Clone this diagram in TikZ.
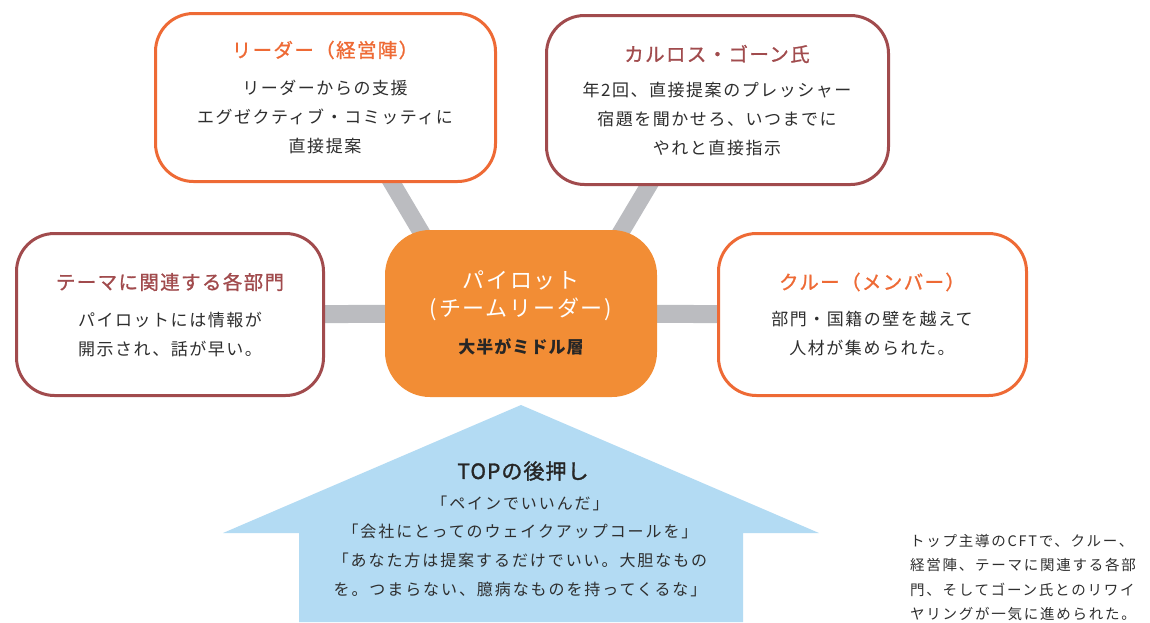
\documentclass[tikz,border=0pt]{standalone}
\usepackage{fontspec}
\usetikzlibrary{backgrounds}
\newfontfamily\jpA[LetterSpace=9]{Noto Sans CJK JP}
\newfontfamily\jpN[LetterSpace=12]{Noto Sans CJK JP}
\newfontfamily\jpT[LetterSpace=7,FakeBold=1]{Noto Sans CJK JP}
\newfontfamily\jpM[LetterSpace=5,FakeBold=1.5]{Noto Sans CJK JP}
\newfontfamily\jpC[LetterSpace=8]{Noto Sans CJK JP}
\newfontfamily\jpB[LetterSpace=6]{Noto Sans CJK JP}
\definecolor{orn}{HTML}{EE6A35}
\definecolor{mar}{HTML}{A14B4D}
\definecolor{ctr}{HTML}{F28D35}
\definecolor{gry}{HTML}{BBBCC0}
\definecolor{sky}{HTML}{B3DBF3}
\definecolor{txt}{HTML}{2E2E2E}
\tikzset{
  card/.style={draw, line width=3pt, rounded corners=38pt, fill=white, inner sep=0pt},
  hub/.style={fill=ctr, rounded corners=45pt, inner sep=0pt, minimum width=272pt, minimum height=167pt},
  link/.style={draw=gry, line width=17pt},
  ttl/.style={font=\jpT\fontsize{19.5}{22}\selectfont, inner sep=0pt},
  bodytext/.style={font=\jpA\fontsize{17}{29}\selectfont, text=txt, align=center, inner sep=0pt},
}
\begin{document}
\begin{tikzpicture}[x=1pt,y=-1pt]
\useasboundingbox (0,0) rectangle (1150,622);
% boxes
\node[card, draw=orn, minimum width=340pt, minimum height=168pt] (leader) at (325.5,97.5) {};
\node[card, draw=mar, minimum width=342pt, minimum height=169pt] (ghosn) at (717.5,100) {};
\node[hub] (center) at (521,313.5) {};
\node[card, draw=mar, minimum width=307pt, minimum height=162pt] (dept) at (170,314.5) {};
\node[card, draw=orn, minimum width=308pt, minimum height=162pt] (crew) at (872.5,314.5) {};
% connectors (behind)
\coordinate (la) at (387.9,176);
\coordinate (lb) at (431.7,250);
\coordinate (ga) at (653.2,178);
\coordinate (gb) at (610.3,250);
\begin{scope}[on background layer]
\draw[link] (la) -- (lb);
\draw[link] (ga) -- (gb);
\draw[link, line width=18pt] (dept) -- (center);
\draw[link, line width=18pt] (center) -- (crew);
\end{scope}
% arrow
\fill[sky] (299,622) -- (299,533) -- (223,533) -- (521,405) -- (819,533) -- (743,533) -- (743,622) -- cycle;
% texts
\node[ttl, text=orn] (leaderT) at (325,50) {リーダー（経営陣）};
\node[bodytext] (leaderB) at (325,117) {リーダーからの支援\\エグゼクティブ・コミッティに\\直接提案};
\node[ttl, text=mar] (ghosnT) at (717,54) {カルロス・ゴーン氏};
\node[bodytext] (ghosnB) at (717,119.5) {年2回、直接提案のプレッシャー\\宿題を聞かせろ、いつまでに\\やれと直接指示};
\node[ttl, text=mar] (deptT) at (170,282) {テーマに関連する各部門};
\node[bodytext] (deptB) at (170,334) {パイロットには情報が\\開示され、話が早い。};
\node[ttl, text=orn] (crewT) at (872,282) {クルー（メンバー）};
\node[bodytext] (crewB) at (872,333.5) {部門・国籍の壁を越えて\\人材が集められた。};
\node[font=\jpC\fontsize{22}{28}\selectfont, text=white, align=center, inner sep=0pt] (centerT) at (521,296) {パイロット\\(チームリーダー)};
\node[font=\jpB\bfseries\fontsize{17}{20}\selectfont, text=black!85, inner sep=0pt] (centerB) at (521,347) {大半がミドル層};
\node[font=\jpM\fontsize{21}{24}\selectfont, text=black!85, inner sep=0pt] (topT) at (523,471) {TOPの後押し};
\node[font=\jpN\fontsize{16}{28.7}\selectfont, text=txt, align=center, inner sep=0pt] (topB) at (520,546) {「ペインでいいんだ」\\「会社にとってのウェイクアップコールを」\\「あなた方は提案するだけでいい。大胆なもの\\を。つまらない、臆病なものを持ってくるな」};
\node[font=\jpN\fontsize{14.5}{24.4}\selectfont, text=txt, align=left, anchor=west, inner sep=0pt] (note) at (910,577.5) {トップ主導のCFTで、クルー、\\経営陣、テーマに関連する各部\\門、そしてゴーン氏とのリワイ\\ヤリングが一気に進められた。};
\end{tikzpicture}
\end{document}
